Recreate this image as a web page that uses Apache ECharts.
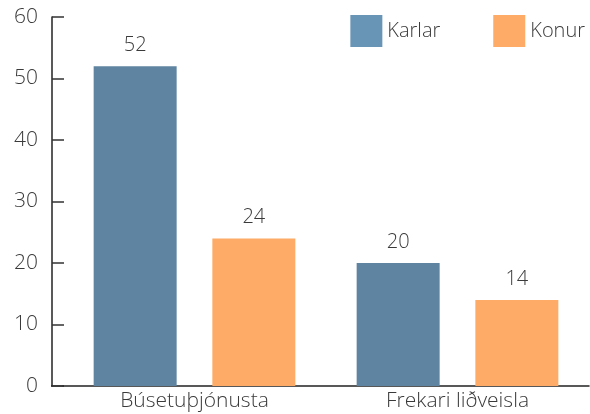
<!DOCTYPE html>
<html>
<head>
<meta charset="utf-8">
<script src="https://cdn.jsdelivr.net/npm/echarts@6/dist/echarts.min.js"></script>
<style>
    html, body { margin: 0; padding: 0; background: #fff; }
    #chart { width: 590px; height: 414px; }
</style>
</head>
<body>
<div id="chart"></div>
<script>
    var categories = ['Búsetuþjónusta', 'Frekari liðveisla'];
    var karlar = [52, 20];
    var konur = [24, 14];
    var yTicks = [0, 10, 20, 30, 40, 50, 60];

    var font = 'Open Sans';
    var textColor = '#3a3a3a';

    var chart = echarts.init(document.getElementById('chart'));
    var option = {
        animation: false,
        grid: { left: 63, right: 1, top: 17, bottom: 28 },
        legend: {
            right: 0,
            top: 10,
            itemWidth: 32,
            itemHeight: 32,
            itemGap: 53,
            icon: 'rect',
            textStyle: { fontFamily: font, fontWeight: 300, fontSize: 20, color: textColor },
            data: [
                { name: 'Karlar', itemStyle: { color: '#6895b6' } },
                { name: 'Konur', itemStyle: { color: '#fdab67' } }
            ]
        },
        xAxis: {
            type: 'category',
            data: categories,
            axisLine: { lineStyle: { color: '#222', width: 1.5 } },
            axisTick: { inside: true, length: 11, lineStyle: { color: '#222' } },
            axisLabel: { fontFamily: font, fontWeight: 300, fontSize: 21, color: textColor, margin: 5 }
        },
        yAxis: {
            type: 'value',
            min: yTicks[0],
            max: yTicks[yTicks.length - 1],
            interval: 10,
            offset: 11,
            splitLine: { show: false },
            axisLine: { show: true, lineStyle: { color: '#222', width: 1.5 } },
            axisTick: { show: true, inside: true, length: 12, lineStyle: { color: '#333', width: 1.5 } },
            axisLabel: { fontFamily: font, fontWeight: 300, fontSize: 21, color: textColor, margin: 14 }
        },
        graphic: [{
            type: 'line',
            shape: { x1: 51, y1: 386, x2: 64, y2: 386 },
            style: { stroke: '#222', lineWidth: 1.5 }
        }],
        series: [
            {
                name: 'Karlar',
                type: 'bar',
                data: karlar,
                barWidth: 83,
                barGap: '43%',
                itemStyle: { color: '#5e84a1' },
                label: { show: true, position: 'top', distance: 11, fontFamily: font, fontWeight: 300, fontSize: 20, color: textColor }
            },
            {
                name: 'Konur',
                type: 'bar',
                data: konur,
                barWidth: 83,
                itemStyle: { color: '#fdab67' },
                label: { show: true, position: 'top', distance: 11, fontFamily: font, fontWeight: 300, fontSize: 20, color: textColor }
            }
        ]
    };
    chart.setOption(option);
</script>
</body>
</html>
